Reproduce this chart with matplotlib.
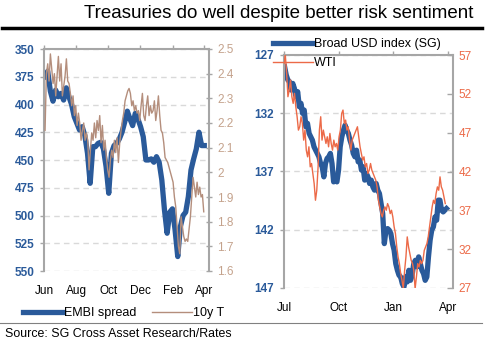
import numpy as np
import pandas as pd
import matplotlib
matplotlib.use('Agg')
import matplotlib.pyplot as plt
import matplotlib.dates as mdates
from matplotlib.ticker import FuncFormatter
from matplotlib.lines import Line2D

plt.rcParams['font.family'] = ['Liberation Sans', 'DejaVu Sans']

# ---- left panel: EMBI spread (bp, inverted) vs 10y UST yield ----
embi = [375, 370, 388, 397, 387, 393, 390, 396, 385, 393,
        400, 411, 417, 423, 420, 428, 444, 471, 438, 438,
        435, 434, 440, 456, 480, 444, 437, 435, 431, 425,
        416, 406, 413, 419, 408, 413, 420, 429, 450, 450,
        449, 452, 447, 452, 468, 495, 516, 497, 494, 513,
        537, 510, 500, 497, 483, 459, 449, 440, 425, 437, 437]

ust10 = [2.17, 2.40, 2.44, 2.37, 2.48, 2.42, 2.36, 2.40, 2.31, 2.39,
         2.47, 2.37, 2.44, 2.31, 2.35, 2.39, 2.46, 2.37, 2.36, 2.32,
         2.27, 2.31, 2.23, 2.27, 2.19, 2.24, 2.20, 2.13, 2.17, 2.20,
         2.13, 2.16, 2.13, 2.01, 2.09, 2.16, 2.13, 2.20, 2.14, 2.21,
         2.17, 2.23, 2.12, 2.19, 2.09, 2.13, 2.06, 2.01, 1.98, 2.05,
         2.09, 2.06, 2.13, 2.08, 2.14, 2.04, 2.12, 2.17, 2.21, 2.24,
         2.29, 2.31, 2.33, 2.34, 2.32, 2.27, 2.29, 2.25, 2.27, 2.24,
         2.25, 2.21, 2.27, 2.32, 2.23, 2.21, 2.27, 2.31, 2.23, 2.27,
         2.24, 2.25, 2.29, 2.21, 2.25, 2.31, 2.23,
         2.17, 2.16, 2.12, 2.06, 2.05, 2.04, 2.02, 2.00, 1.98, 1.96,
         1.90, 1.86, 1.78, 1.70, 1.67, 1.82, 1.78, 1.74, 1.72, 1.73,
         1.72, 1.77, 1.82, 1.90, 1.98, 1.94, 1.90, 1.96, 1.91, 1.94,
         1.90, 1.91, 1.84]

# ---- right panel: Broad USD index (inverted) vs WTI ----
usd = [128.00, 128.72, 129.15, 129.29, 130.01, 129.44, 129.87, 130.58, 130.15, 131.44,
       131.15, 132.01, 131.73, 133.16, 132.87, 133.73, 134.02, 134.31, 134.88, 135.17,
       135.45, 135.74, 136.31, 136.60, 137.46, 136.31, 135.88, 135.74, 135.45, 136.31,
       137.89, 137.74, 137.89, 136.88, 134.88, 134.02, 133.45, 133.02, 133.45, 133.73,
       134.31, 134.74, 135.45, 135.74, 135.17, 136.17, 136.02, 136.88, 136.60, 137.74,
       137.17, 137.46, 138.03, 137.74, 138.32, 138.60, 138.03, 138.60, 138.89, 139.75,
       140.61, 143.19, 142.04, 141.90, 142.04, 142.33, 143.19, 143.76, 144.91, 145.48,
       145.91, 146.05, 146.63, 146.91, 146.05, 146.48, 145.48, 146.34, 145.91, 144.91,
       144.62, 145.19, 144.33, 144.91, 145.48, 145.77, 146.34, 146.05, 144.33, 142.90,
       142.04, 141.75, 140.90, 141.18, 139.46, 139.46, 140.32, 140.47, 140.32, 140.18]

wti = [55.93, 57.00, 54.64, 51.63, 52.49, 53.78, 51.63, 50.77, 52.06, 50.34,
       49.05, 47.33, 47.76, 49.05, 48.19, 46.04, 47.33, 44.75, 43.89, 45.18,
       42.60, 43.03, 41.74, 40.45, 38.30, 39.59, 42.60, 47.33, 49.05, 46.04,
       47.33, 46.47, 45.61, 46.47, 45.18, 46.90, 45.61, 44.75, 46.04, 45.18,
       45.61, 44.75, 46.47, 47.33, 49.48, 49.91, 48.19, 48.62, 47.33, 47.76,
       46.04,
       44.75, 46.04, 46.47, 46.90, 47.33, 47.76, 46.47, 45.18, 44.32, 43.46,
       43.89, 42.60, 43.03, 41.74, 42.17, 43.03, 42.17, 41.74, 41.31, 40.88,
       40.02, 38.30, 37.44, 36.58, 36.15, 37.01, 37.44, 37.01, 37.87, 37.44,
       36.58, 37.01, 36.15, 34.87, 34.01, 32.29, 31.00, 30.14, 28.85, 27.99,
       26.91, 29.28, 31.00, 33.58, 32.29, 31.43, 30.57, 30.14, 29.28, 26.91,
       28.42, 30.14, 29.71, 30.57, 30.14, 30.57, 31.86, 32.29, 32.72, 33.58,
       34.87, 36.15, 37.44, 38.30, 37.87, 39.16, 40.02, 39.59, 41.31, 40.02,
       39.59, 38.73, 37.87]

embi_dates = pd.date_range('2015-06-03', '2016-04-01', periods=len(embi))
ust_dates = pd.date_range('2015-06-03', '2016-03-31', periods=len(ust10))
usd_dates = pd.date_range('2015-07-02', '2016-03-30', periods=len(usd))
wti_dates = pd.date_range('2015-07-01', '2016-03-28', periods=len(wti))

left_ticks = ['2015-06-01', '2015-08-01', '2015-10-01', '2015-12-01', '2016-02-01', '2016-04-01']
right_ticks = ['2015-07-01', '2015-10-01', '2016-01-01', '2016-04-01']
embi_axis = np.arange(350, 551, 25)
ust_axis = np.round(np.arange(1.6, 2.51, 0.1), 1)
usd_axis = np.arange(127, 148, 5)
wti_axis = np.arange(27, 58, 5)

blue = '#2a5a9a'
brown = '#b48e7c'
tan = '#c4a28c'
orange = '#ec6a48'
grey = '#a6a6a6'
gridc = '#d9d9d9'
fs = 8.5

W, H = 498, 345
fig = plt.figure(figsize=(W / 100, H / 100), dpi=100)


def setup(ax, tw, xticks, xlim, yt, yt2, col2):
    ax.set_xlim(pd.Timestamp(xlim[0]), pd.Timestamp(xlim[1]))
    ax.set_ylim(yt[-1], yt[0])
    ax.set_yticks(yt)
    tw.set_ylim(yt2[0], yt2[-1])
    tw.set_yticks(yt2)
    tw.yaxis.set_major_formatter(FuncFormatter(lambda v, p: '%g' % round(v, 2)))
    ax.set_xticks([pd.Timestamp(t) for t in xticks])
    ax.xaxis.set_major_formatter(mdates.DateFormatter('%b'))

    for a in (ax, tw):
        for s in a.spines.values():
            s.set_visible(False)
            s.set_color(grey)
            s.set_linewidth(1.5)
    ax.spines['left'].set_visible(True)
    ax.spines['top'].set_visible(True)
    tw.spines['right'].set_visible(True)

    ax.grid(axis='y', ls=(0, (4, 3)), color=gridc, lw=1)
    ax.set_axisbelow(True)
    ax.tick_params(axis='x', bottom=False, top=True, labelbottom=True, labeltop=False,
                   direction='out', length=3, width=1, color=grey, labelsize=fs, pad=7)
    ax.tick_params(axis='y', direction='out', length=3, width=1, color=grey,
                   labelcolor=blue, labelsize=fs, pad=4)
    tw.tick_params(axis='y', direction='inout', length=4, width=1, color=grey,
                   labelcolor=col2, labelsize=fs, pad=4)
    for lab in ax.get_yticklabels():
        lab.set_fontweight('bold')


# left panel
ax1 = fig.add_axes([44 / W, 1 - 271 / H, 165 / W, 222 / H])
tw1 = ax1.twinx()
l1, = ax1.plot(embi_dates, embi, color=blue, lw=3.8, solid_joinstyle='round')
l2, = tw1.plot(ust_dates, ust10, color=brown, lw=1.0)
setup(ax1, tw1, left_ticks, ('2015-06-01', '2016-04-10'), embi_axis, ust_axis, tan)

# right panel
ax2 = fig.add_axes([284 / W, 1 - 288 / H, 169 / W, 233 / H])
tw2 = ax2.twinx()
r1, = ax2.plot(usd_dates, usd, color=blue, lw=3.8, solid_joinstyle='round')
r2, = tw2.plot(wti_dates, wti, color=orange, lw=1.0)
setup(ax2, tw2, right_ticks, ('2015-07-01', '2016-04-10'), usd_axis, wti_axis, orange)
tw2.tick_params(axis='y', direction='in')

# legends
fig.legend([l1, l2], ['EMBI spread', '10y T'], loc='center left',
           bbox_to_anchor=(23 / W, 1 - 313 / H), ncol=2, frameon=False,
           fontsize=9, handlelength=3.2, handletextpad=0.1, columnspacing=1.2,
           borderpad=0, borderaxespad=0)
fig.legend([r1, r2], ['Broad USD index (SG)', 'WTI'], loc='upper left',
           bbox_to_anchor=(273 / W, 1 - 38 / H), ncol=1, frameon=False,
           fontsize=9, handlelength=3.2, handletextpad=0.1, labelspacing=0.55,
           borderpad=0, borderaxespad=0)

# title, rules and source
fig.text(473 / W, 1 - 14 / H, 'Treasuries do well despite better risk sentiment',
         ha='right', va='center', fontsize=13.5)
fig.add_artist(Line2D([2 / W, 482 / W], [1 - 28 / H, 1 - 28 / H], color='black', lw=2.5))
fig.add_artist(Line2D([0, 482 / W], [1 - 323 / H, 1 - 323 / H], color='#808080', lw=0.8))
fig.text(5 / W, 1 - 334 / H, 'Source: SG Cross Asset Research/Rates',
         ha='left', va='center', fontsize=8.9)

fig.savefig('out.png', dpi=100)
